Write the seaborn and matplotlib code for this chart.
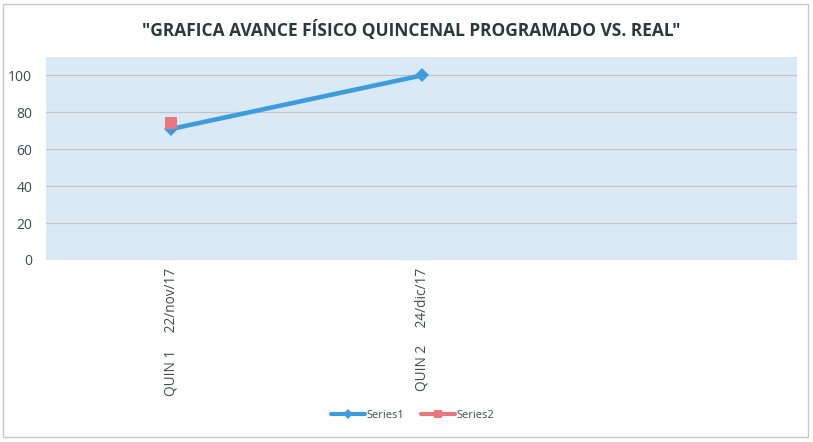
import pandas as pd
import seaborn as sns
import matplotlib.pyplot as plt
from matplotlib.lines import Line2D
from matplotlib.patches import Rectangle

# Data
categories = ["QUIN 1     22/nov/17", "QUIN 2     24/dic/17", ""]
series1 = [71, 100, None]
series2 = [74, None, None]
title = "\"GRAFICA AVANCE FÍSICO QUINCENAL PROGRAMADO VS. REAL\""

sns.set_theme(style="white")
plt.rcParams['font.family'] = ['Open Sans', 'DejaVu Sans']

text_color = "#3f4a4a"
blue = "#3d9ddc"
red = "#e8787c"

df = pd.DataFrame({"pos": range(len(categories)), "Series1": series1, "Series2": series2})

fig = plt.figure(figsize=(8.13, 4.42), dpi=100)
ax = fig.add_axes([0.0566, 0.412, 0.924, 0.459])
ax.set_facecolor("#d9eaf6")

sns.lineplot(data=df, x="pos", y="Series1", ax=ax, color=blue, linewidth=3.3,
             marker="D", markersize=7, markeredgewidth=0, legend=False)
sns.lineplot(data=df, x="pos", y="Series2", ax=ax, color=red, linewidth=3.3,
             marker="s", markersize=9, markeredgewidth=0, legend=False)

ax.set_xlim(-0.5, len(categories) - 0.5)
ax.set_ylim(0, 110)
ax.set_yticks(range(0, 101, 20))
ax.set_xticks(df["pos"])
ax.set_xticklabels(categories, rotation=90, fontsize=9.8, color=text_color, va="top")
ax.tick_params(axis="y", labelsize=10, labelcolor=text_color, length=0, pad=10)
ax.tick_params(axis="x", length=0, pad=6)
ax.yaxis.grid(True, color="#c4c4c4", linewidth=0.9)
ax.set_axisbelow(True)
for s in ax.spines.values():
    s.set_visible(False)
ax.set_xlabel("")
ax.set_ylabel("")

fig.text(0.506, 0.933, title, ha="center", va="center", fontsize=12.5,
         fontweight="bold", color="#2f3838")

handles = [
    Line2D([], [], color=blue, linewidth=3, marker="D", markersize=5, markeredgewidth=0),
    Line2D([], [], color=red, linewidth=3, marker="s", markersize=6, markeredgewidth=0),
]
fig.legend(handles, ["Series1", "Series2"], loc="center", bbox_to_anchor=(0.508, 0.06),
           ncol=2, frameon=False, fontsize=8, labelcolor=text_color,
           handlelength=3, handletextpad=0.2, columnspacing=1.5)

# outer chart border
fig.patches.append(Rectangle((0.004, 0.011), 0.99, 0.98, transform=fig.transFigure,
                             fill=False, edgecolor="#c8c8c8", linewidth=1))

fig.savefig("out.png", dpi=100)
